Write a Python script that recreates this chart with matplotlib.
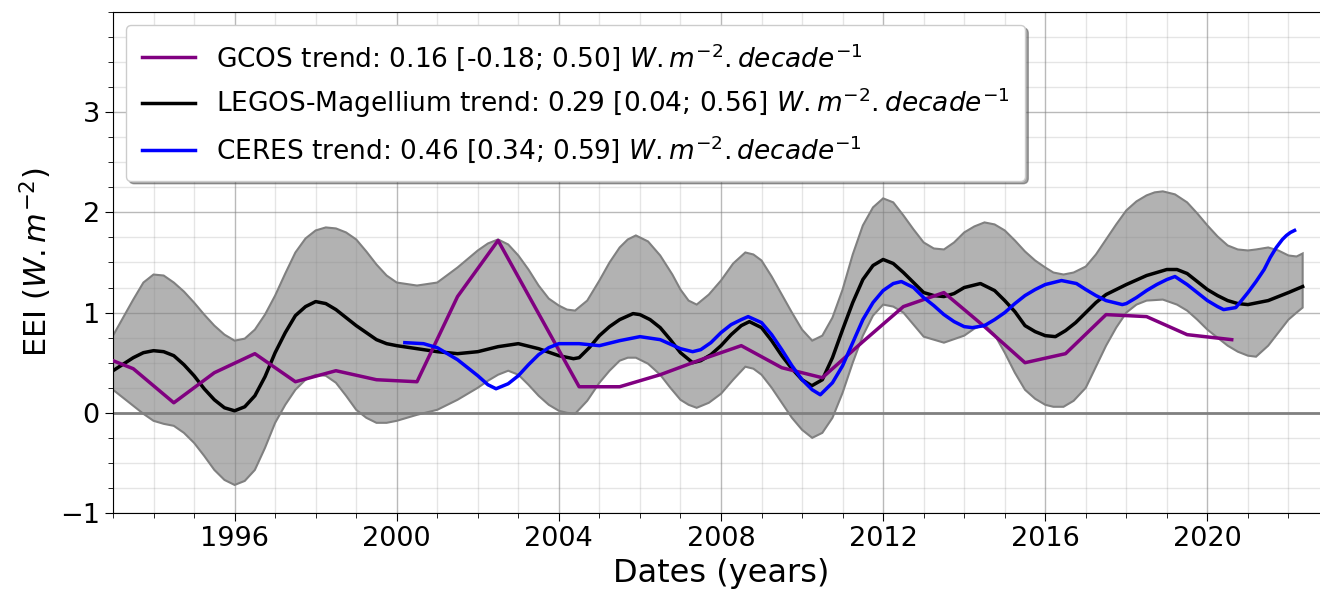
import numpy as np
import matplotlib
matplotlib.use('Agg')
import matplotlib.pyplot as plt
from matplotlib.ticker import MultipleLocator

# GCOS annual values (piecewise linear)
gcos_years = [1993.0, 1993.5, 1994.5, 1995.5, 1996.5, 1997.5, 1998.5, 1999.5, 2000.5,
              2001.5, 2002.5, 2003.5, 2004.5, 2005.5, 2006.5, 2007.5, 2008.5, 2009.5,
              2010.5, 2011.5, 2012.5, 2013.5, 2014.5, 2015.5, 2016.5, 2017.5, 2018.5,
              2019.5, 2020.6]
gcos_eei = [0.52, 0.44, 0.10, 0.40, 0.59, 0.31, 0.42, 0.33, 0.31,
            1.16, 1.72, 0.99, 0.26, 0.26, 0.38, 0.53, 0.67, 0.45,
            0.35, 0.71, 1.06, 1.20, 0.86, 0.50, 0.59, 0.98, 0.96,
            0.78, 0.73]

# LEGOS-Magellium smoothed EEI
legos_years = [1993.0, 1993.5, 1993.75, 1994.0, 1994.25, 1994.5, 1994.75, 1995.0, 1995.25,
               1995.5, 1995.75, 1996.0, 1996.25, 1996.5, 1996.75, 1997.0, 1997.25, 1997.5,
               1997.75, 1998.0, 1998.25, 1998.5, 1998.75, 1999.0, 1999.25, 1999.5, 1999.75,
               2000.0, 2000.5, 2001.0, 2001.5, 2002.0, 2002.5, 2003.0, 2003.5, 2004.0,
               2004.36, 2004.5, 2004.75, 2005.0, 2005.25, 2005.5, 2005.83, 2006.0, 2006.25,
               2006.5, 2006.75, 2007.0, 2007.3, 2007.5, 2007.75, 2008.0, 2008.25, 2008.5,
               2008.7, 2009.0, 2009.25, 2009.5, 2009.75, 2010.0, 2010.24, 2010.5, 2010.75,
               2011.0, 2011.25, 2011.5, 2011.75, 2012.0, 2012.25, 2012.5, 2012.75, 2013.0,
               2013.25, 2013.5, 2013.75, 2014.0, 2014.4, 2014.75, 2015.0, 2015.25, 2015.5,
               2015.75, 2016.0, 2016.25, 2016.5, 2016.75, 2017.0, 2017.25, 2017.5, 2017.75,
               2018.0, 2018.5, 2019.0, 2019.25, 2019.5, 2019.75, 2020.0, 2020.25, 2020.5,
               2020.75, 2021.0, 2021.5, 2022.0, 2022.35]
legos_eei = [0.42, 0.55, 0.60, 0.62, 0.61, 0.57, 0.48, 0.37, 0.24,
             0.13, 0.05, 0.02, 0.06, 0.17, 0.36, 0.60, 0.80, 0.97,
             1.06, 1.11, 1.09, 1.03, 0.95, 0.87, 0.80, 0.73, 0.69,
             0.67, 0.64, 0.61, 0.59, 0.61, 0.66, 0.69, 0.64, 0.57,
             0.54, 0.55, 0.65, 0.77, 0.86, 0.93, 0.99, 0.98, 0.93,
             0.85, 0.73, 0.60, 0.50, 0.52, 0.58, 0.67, 0.78, 0.87,
             0.91, 0.85, 0.72, 0.57, 0.44, 0.33, 0.27, 0.33, 0.55,
             0.83, 1.10, 1.33, 1.47, 1.53, 1.49, 1.40, 1.30, 1.20,
             1.17, 1.16, 1.19, 1.25, 1.29, 1.22, 1.12, 1.01, 0.87,
             0.81, 0.77, 0.76, 0.82, 0.90, 1.00, 1.10, 1.18, 1.23,
             1.28, 1.37, 1.43, 1.43, 1.39, 1.31, 1.23, 1.17, 1.12,
             1.09, 1.08, 1.12, 1.20, 1.26]

# LEGOS-Magellium uncertainty envelope (upper and lower edges)
up_years = [1993.0, 1993.25, 1993.5, 1993.75, 1994.0, 1994.25, 1994.5, 1994.75, 1995.0,
            1995.25, 1995.5, 1995.75, 1996.0, 1996.25, 1996.5, 1996.75, 1997.0, 1997.25,
            1997.5, 1997.75, 1998.0, 1998.25, 1998.5, 1998.75, 1999.0, 1999.25, 1999.5,
            1999.75, 2000.0, 2000.5, 2001.0, 2001.5, 2002.0, 2002.25, 2002.5, 2002.75,
            2003.0, 2003.25, 2003.5, 2003.75, 2004.0, 2004.2, 2004.4, 2004.7, 2005.0,
            2005.25, 2005.5, 2005.7, 2005.9, 2006.2, 2006.5, 2006.8, 2007.0, 2007.2,
            2007.4, 2007.7, 2008.0, 2008.3, 2008.6, 2008.8, 2009.0, 2009.25, 2009.5,
            2009.75, 2010.0, 2010.25, 2010.5, 2010.75, 2011.0, 2011.25, 2011.5, 2011.75,
            2012.0, 2012.25, 2012.5, 2012.75, 2013.0, 2013.25, 2013.5, 2013.75, 2014.0,
            2014.25, 2014.5, 2014.75, 2015.0, 2015.25, 2015.5, 2015.75, 2016.0, 2016.2,
            2016.45, 2016.7, 2017.0, 2017.25, 2017.5, 2017.75, 2018.0, 2018.25, 2018.5,
            2018.7, 2018.9, 2019.2, 2019.5, 2019.75, 2020.0, 2020.25, 2020.5, 2020.75,
            2021.0, 2021.2, 2021.5, 2021.75, 2022.0, 2022.2, 2022.35]
band_up = [0.77, 0.95, 1.13, 1.30, 1.38, 1.37, 1.30, 1.21, 1.10,
           0.98, 0.87, 0.78, 0.72, 0.74, 0.83, 0.98, 1.17, 1.39,
           1.60, 1.74, 1.82, 1.85, 1.84, 1.80, 1.73, 1.61, 1.48,
           1.37, 1.30, 1.27, 1.30, 1.45, 1.62, 1.69, 1.73, 1.68,
           1.57, 1.43, 1.27, 1.14, 1.07, 1.03, 1.02, 1.12, 1.32,
           1.50, 1.65, 1.73, 1.77, 1.71, 1.57, 1.38, 1.23, 1.12,
           1.08, 1.18, 1.32, 1.49, 1.60, 1.58, 1.52, 1.36, 1.18,
           1.00, 0.83, 0.72, 0.77, 0.95, 1.23, 1.58, 1.87, 2.05,
           2.14, 2.10, 1.97, 1.83, 1.70, 1.64, 1.63, 1.70, 1.80,
           1.86, 1.90, 1.88, 1.82, 1.72, 1.61, 1.52, 1.45, 1.40,
           1.38, 1.40, 1.46, 1.58, 1.73, 1.88, 2.02, 2.11, 2.17,
           2.20, 2.21, 2.18, 2.10, 1.99, 1.87, 1.76, 1.67, 1.63,
           1.62, 1.63, 1.65, 1.62, 1.57, 1.56, 1.59]

low_years = [1993.0, 1993.25, 1993.5, 1993.75, 1994.0, 1994.25, 1994.5, 1994.75, 1995.0,
             1995.25, 1995.5, 1995.75, 1996.0, 1996.25, 1996.5, 1996.75, 1997.0, 1997.25,
             1997.5, 1997.75, 1998.0, 1998.25, 1998.5, 1998.75, 1999.0, 1999.25, 1999.5,
             1999.75, 2000.0, 2000.5, 2001.0, 2001.5, 2002.0, 2002.25, 2002.5, 2002.75,
             2003.0, 2003.25, 2003.5, 2003.75, 2004.0, 2004.2, 2004.4, 2004.7, 2005.0,
             2005.25, 2005.5, 2005.7, 2005.9, 2006.2, 2006.5, 2006.75, 2007.0, 2007.2,
             2007.4, 2007.7, 2008.0, 2008.3, 2008.6, 2008.8, 2009.0, 2009.25, 2009.5,
             2009.75, 2010.0, 2010.25, 2010.5, 2010.75, 2011.0, 2011.25, 2011.5, 2011.75,
             2012.0, 2012.25, 2012.5, 2012.75, 2013.0, 2013.5, 2014.0, 2014.25, 2014.5,
             2014.75, 2015.0, 2015.25, 2015.5, 2015.75, 2016.0, 2016.2, 2016.45, 2016.7,
             2017.0, 2017.25, 2017.5, 2017.75, 2018.0, 2018.25, 2018.5, 2018.9, 2019.25,
             2019.5, 2019.75, 2020.0, 2020.25, 2020.5, 2020.75, 2021.0, 2021.2, 2021.5,
             2021.75, 2022.0, 2022.2, 2022.35]
band_low = [0.23, 0.15, 0.07, -0.01, -0.08, -0.11, -0.13, -0.20, -0.30,
            -0.43, -0.57, -0.67, -0.72, -0.68, -0.57, -0.35, -0.10, 0.08,
            0.23, 0.33, 0.38, 0.37, 0.30, 0.17, 0.03, -0.05, -0.10,
            -0.10, -0.08, -0.02, 0.03, 0.13, 0.25, 0.32, 0.38, 0.42,
            0.38, 0.28, 0.17, 0.08, 0.02, 0.00, -0.01, 0.12, 0.30,
            0.42, 0.52, 0.55, 0.55, 0.49, 0.38, 0.25, 0.13, 0.08,
            0.05, 0.10, 0.19, 0.33, 0.46, 0.44, 0.38, 0.25, 0.10,
            -0.05, -0.17, -0.25, -0.20, -0.05, 0.20, 0.50, 0.77, 0.97,
            1.08, 1.06, 1.00, 0.88, 0.76, 0.70, 0.77, 0.84, 0.88,
            0.78, 0.60, 0.40, 0.23, 0.14, 0.08, 0.06, 0.06, 0.12,
            0.25, 0.46, 0.67, 0.85, 1.00, 1.08, 1.12, 1.13, 1.08,
            1.02, 0.93, 0.83, 0.75, 0.67, 0.61, 0.57, 0.56, 0.67,
            0.80, 0.93, 1.00, 1.05]

# CERES smoothed EEI
ceres_years = [2000.2, 2000.66, 2001.0, 2001.5, 2001.75, 2002.0, 2002.25, 2002.45, 2002.75,
               2003.0, 2003.25, 2003.5, 2003.75, 2004.0, 2004.5, 2005.0, 2005.5, 2006.0,
               2006.5, 2007.0, 2007.3, 2007.5, 2007.75, 2008.0, 2008.25, 2008.5, 2008.67,
               2009.0, 2009.25, 2009.5, 2009.75, 2010.0, 2010.25, 2010.45, 2010.75, 2011.0,
               2011.25, 2011.5, 2011.75, 2012.0, 2012.25, 2012.45, 2012.75, 2013.0, 2013.25,
               2013.5, 2013.75, 2014.0, 2014.2, 2014.5, 2014.75, 2015.0, 2015.25, 2015.5,
               2015.75, 2016.0, 2016.4, 2016.77, 2017.0, 2017.25, 2017.5, 2017.9, 2018.0,
               2018.25, 2018.5, 2018.75, 2019.0, 2019.2, 2019.5, 2019.75, 2020.0, 2020.25,
               2020.4, 2020.7, 2021.0, 2021.2, 2021.4, 2021.55, 2021.7, 2021.85, 2021.95,
               2022.05, 2022.15]
ceres_eei = [0.70, 0.69, 0.65, 0.53, 0.45, 0.37, 0.28, 0.24, 0.29,
             0.37, 0.48, 0.58, 0.65, 0.69, 0.69, 0.67, 0.72, 0.76,
             0.73, 0.64, 0.61, 0.63, 0.70, 0.80, 0.88, 0.93, 0.96,
             0.90, 0.78, 0.63, 0.47, 0.33, 0.23, 0.18, 0.30, 0.47,
             0.70, 0.93, 1.10, 1.22, 1.29, 1.31, 1.25, 1.15, 1.07,
             0.98, 0.91, 0.86, 0.85, 0.87, 0.93, 1.00, 1.09, 1.17,
             1.23, 1.28, 1.32, 1.29, 1.23, 1.17, 1.12, 1.08, 1.09,
             1.15, 1.22, 1.28, 1.33, 1.36, 1.28, 1.20, 1.12, 1.06,
             1.03, 1.05, 1.20, 1.31, 1.43, 1.55, 1.65, 1.73, 1.77,
             1.80, 1.82]

unit = r'$W.m^{-2}.decade^{-1}$'
labels = ['GCOS trend: 0.16 [-0.18; 0.50] ' + unit,
          'LEGOS-Magellium trend: 0.29 [0.04; 0.56] ' + unit,
          'CERES trend: 0.46 [0.34; 0.59] ' + unit]

fig = plt.figure(figsize=(13.2, 5.9), dpi=100)
ax = fig.add_axes([113 / 1320, 77 / 590, 1216 / 1320, 501 / 590])

# envelope drawn as one closed polygon: upper edge then lower edge reversed
env_x = np.concatenate([up_years, low_years[::-1]])
env_y = np.concatenate([band_up, band_low[::-1]])
ax.fill(env_x, env_y, facecolor=(0.5, 0.5, 0.5, 0.6), edgecolor='gray', lw=1.5, zorder=2)
ax.axhline(0, color='gray', lw=2, zorder=1.5)

l_legos, = ax.plot(legos_years, legos_eei, color='black', lw=2.5, zorder=3)
l_gcos, = ax.plot(gcos_years, gcos_eei, color='purple', lw=2.5, zorder=3)
l_ceres, = ax.plot(ceres_years, ceres_eei, color='blue', lw=2.5, zorder=3)

ax.set_xlim(1993, 2023)
ax.set_ylim(-1, 4)
ax.set_xticks([1996, 2000, 2004, 2008, 2012, 2016, 2020])
ax.set_yticks([-1, 0, 1, 2, 3])
ax.xaxis.set_minor_locator(MultipleLocator(1))
ax.yaxis.set_minor_locator(MultipleLocator(0.25))
ax.tick_params(which='major', labelsize=19.5, length=6)
ax.tick_params(which='minor', length=3.5)
ax.grid(which='major', color='gray', alpha=0.55, lw=1)
ax.grid(which='minor', color='gray', alpha=0.2, lw=1)
ax.set_axisbelow(True)

ax.set_xlabel('Dates (years)', fontsize=23)
ax.set_ylabel('EEI ($W.m^{-2}$)', fontsize=22)

ax.legend([l_gcos, l_legos, l_ceres], labels, loc='upper left', fontsize=19,
          borderpad=0.6, shadow=True, fancybox=True, framealpha=1)

fig.savefig('out.png', dpi=100)
